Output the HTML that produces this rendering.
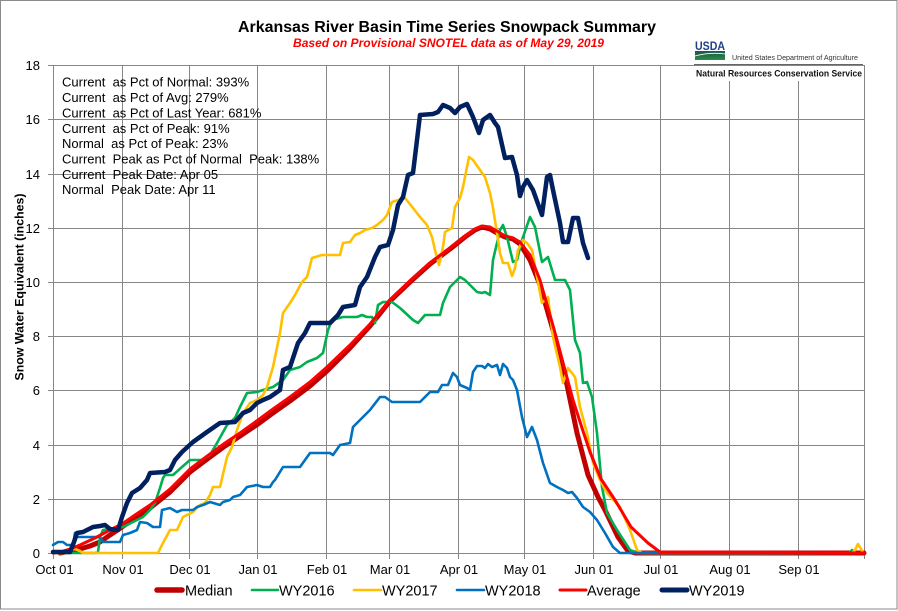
<!DOCTYPE html>
<html>
<head>
<meta charset="utf-8">
<style>
html,body{margin:0;padding:0;background:#fff;}
svg{display:block;}
text{font-family:"Liberation Sans",Arial,sans-serif;}
</style>
</head>
<body>
<svg width="898" height="611" viewBox="0 0 898 611" xmlns="http://www.w3.org/2000/svg">
<rect x="0" y="0" width="898" height="611" fill="#fff"/>
<rect x="0.5" y="0.5" width="896.5" height="608.5" fill="none" stroke="#8a8a8a" stroke-width="1"/>

<g stroke="#868686" stroke-width="1" shape-rendering="crispEdges">
<line x1="53" y1="65.5" x2="865" y2="65.5"/>
<line x1="53" y1="119.5" x2="865" y2="119.5"/>
<line x1="53" y1="174.5" x2="865" y2="174.5"/>
<line x1="53" y1="228.5" x2="865" y2="228.5"/>
<line x1="53" y1="282.5" x2="865" y2="282.5"/>
<line x1="53" y1="336.5" x2="865" y2="336.5"/>
<line x1="53" y1="390.5" x2="865" y2="390.5"/>
<line x1="53" y1="445.5" x2="865" y2="445.5"/>
<line x1="53" y1="499.5" x2="865" y2="499.5"/>
<line x1="48" y1="553.5" x2="865" y2="553.5"/>
<line x1="48" y1="65.5" x2="53" y2="65.5"/>
<line x1="48" y1="119.5" x2="53" y2="119.5"/>
<line x1="48" y1="174.5" x2="53" y2="174.5"/>
<line x1="48" y1="228.5" x2="53" y2="228.5"/>
<line x1="48" y1="282.5" x2="53" y2="282.5"/>
<line x1="48" y1="336.5" x2="53" y2="336.5"/>
<line x1="48" y1="390.5" x2="53" y2="390.5"/>
<line x1="48" y1="445.5" x2="53" y2="445.5"/>
<line x1="48" y1="499.5" x2="53" y2="499.5"/>
<line x1="53.5" y1="65" x2="53.5" y2="559"/>
<line x1="122.5" y1="65" x2="122.5" y2="559"/>
<line x1="189.5" y1="65" x2="189.5" y2="559"/>
<line x1="257.5" y1="65" x2="257.5" y2="559"/>
<line x1="326.5" y1="65" x2="326.5" y2="559"/>
<line x1="389.5" y1="65" x2="389.5" y2="559"/>
<line x1="458.5" y1="65" x2="458.5" y2="559"/>
<line x1="524.5" y1="65" x2="524.5" y2="559"/>
<line x1="593.5" y1="65" x2="593.5" y2="559"/>
<line x1="660.5" y1="65" x2="660.5" y2="559"/>
<line x1="729.5" y1="65" x2="729.5" y2="559"/>
<line x1="798.5" y1="65" x2="798.5" y2="559"/>
<line x1="864.5" y1="65" x2="864.5" y2="559"/>
</g>

<rect x="690" y="66" width="174" height="15" fill="#fff"/>

<g font-size="13" text-anchor="end" fill="#000">
<text x="40" y="70.2">18</text>
<text x="40" y="124.2">16</text>
<text x="40" y="179.2">14</text>
<text x="40" y="233.2">12</text>
<text x="40" y="287.2">10</text>
<text x="40" y="341.2">8</text>
<text x="40" y="395.2">6</text>
<text x="40" y="450.2">4</text>
<text x="40" y="504.2">2</text>
<text x="40" y="558.2">0</text>
</g>
<g font-size="13" text-anchor="middle" fill="#000">
<text x="54.5" y="574">Oct 01</text>
<text x="123" y="574">Nov 01</text>
<text x="190" y="574">Dec 01</text>
<text x="258" y="574">Jan 01</text>
<text x="327" y="574">Feb 01</text>
<text x="390" y="574">Mar 01</text>
<text x="459" y="574">Apr 01</text>
<text x="525" y="574">May 01</text>
<text x="594" y="574">Jun 01</text>
<text x="661" y="574">Jul 01</text>
<text x="730" y="574">Aug 01</text>
<text x="799" y="574">Sep 01</text>
</g>

<text transform="translate(23.5,287) rotate(-90)" font-size="12.3" font-weight="bold" text-anchor="middle" textLength="187" lengthAdjust="spacingAndGlyphs">Snow Water Equivalent (inches)</text>

<text x="447" y="32" font-size="16" font-weight="bold" text-anchor="middle" textLength="418" lengthAdjust="spacingAndGlyphs">Arkansas River Basin Time Series Snowpack Summary</text>
<text x="448.5" y="47" font-size="12" font-weight="bold" font-style="italic" fill="#ff0000" text-anchor="middle" textLength="311" lengthAdjust="spacingAndGlyphs">Based on Provisional SNOTEL data as of May 29, 2019</text>

<text x="695" y="50" font-size="12" font-weight="bold" fill="#1f3f86" textLength="30" lengthAdjust="spacingAndGlyphs">USDA</text>
<defs>
<linearGradient id="g1" x1="0" y1="0" x2="0" y2="1">
<stop offset="0" stop-color="#1d4f7a"/>
<stop offset="0.35" stop-color="#1e6a3c"/>
<stop offset="1" stop-color="#2f8a4a"/>
</linearGradient>
</defs>
<rect x="695" y="51" width="30" height="9" fill="url(#g1)"/>
<path d="M695,56 Q710,52 725,54" stroke="#fff" stroke-width="0.8" fill="none"/>
<text x="732" y="60" font-size="7.6" fill="#333" textLength="126" lengthAdjust="spacingAndGlyphs">United States Department of Agriculture</text>
<line x1="694" y1="64.5" x2="863" y2="64.5" stroke="#666" stroke-width="1"/>
<text x="696" y="76.5" font-size="9.5" font-weight="bold" fill="#111" textLength="166" lengthAdjust="spacingAndGlyphs">Natural Resources Conservation Service</text>

<g font-size="13" fill="#000">
<text x="62" y="86.7">Current&#160; as Pct of Normal: 393%</text>
<text x="62" y="102.05">Current&#160; as Pct of Avg: 279%</text>
<text x="62" y="117.4">Current&#160; as Pct of Last Year: 681%</text>
<text x="62" y="132.75">Current&#160; as Pct of Peak: 91%</text>
<text x="62" y="148.1">Normal&#160; as Pct of Peak: 23%</text>
<text x="62" y="163.45">Current&#160; Peak as Pct of Normal&#160; Peak: 138%</text>
<text x="62" y="178.8">Current&#160; Peak Date: Apr 05</text>
<text x="62" y="194.15">Normal&#160; Peak Date: Apr 11</text>
</g>

<g fill="none" stroke-linejoin="round" stroke-linecap="round">
<polyline stroke="#c00000" stroke-width="5" points="60,553 70,551 80,549 90,546 100,542 110,535 122,527 135,518 150,508 170,492 190,472 210,457 225,446 240,436 258,424 273,413 290,401 310,386 327,371 350,348 370,326 390,301 410,282 430,264 450,249 465,237 475,230 482,227 490,229 497,233 505,237 513,239 520,244 530,260 540,285 553,330 567,385 577,433 588,475 598,497 605,510 618,537 628,551 635,553 864,553"/>
<polyline stroke="#00b050" stroke-width="2.6" points="53,553 95,553 98,552 100,537 103,530 115,528 123,527 133,522 143,517 150,510 155,503 160,488 163,478 165,475 173,475 182,467 190,460 202,460 210,455 217,443 227,425 235,418 240,407 247,393 257,392 263,390 273,387 283,380 290,370 300,367 307,362 317,358 323,353 328,330 332,320 343,317 357,317 362,315 367,317 372,317 375,323 378,305 383,302 392,302 400,308 413,320 418,323 425,315 440,315 443,303 450,287 460,277 465,280 470,285 477,292 482,293 485,292 490,295 493,260 497,243 500,230 503,225 507,237 513,262 517,260 522,240 530,217 535,227 542,262 548,257 555,280 565,280 570,290 575,340 580,353 583,383 587,382 592,397 597,433 602,487 607,513 617,530 630,550 637,553 849,553 852,550 855,553 864,553"/>
<polyline stroke="#ffc000" stroke-width="2.6" points="53,553 67,553 70,550 75,549 80,551 83,553 158,553 163,543 170,530 177,530 183,517 193,512 200,505 205,503 210,495 213,487 220,487 227,457 232,447 237,430 243,413 250,403 257,400 263,395 267,387 273,367 280,333 283,313 290,303 295,295 302,282 307,277 312,258 322,255 340,255 343,243 350,242 355,235 360,233 365,230 372,228 377,225 383,220 387,215 392,202 405,198 413,208 420,217 427,225 432,237 435,250 439,265 443,247 445,232 452,228 455,207 460,198 463,187 467,167 469,157 473,160 480,170 485,177 490,193 493,208 497,233 500,253 503,263 508,263 512,276 515,268 518,250 523,240 527,243 532,250 537,277 542,303 548,297 553,337 560,367 563,383 568,368 575,377 580,407 587,433 593,463 600,480 607,493 620,507 630,530 637,550 642,553 852,553 855,550 858,544 861,549 863,553 864,553"/>
<polyline stroke="#0070c0" stroke-width="2.6" points="53,545 58,542 63,542 67,545 73,545 75,533 78,537 100,537 103,542 120,542 123,535 130,533 137,530 140,522 147,523 153,527 160,527 162,510 170,508 177,512 182,510 193,510 197,507 203,505 210,502 220,505 223,502 230,500 233,497 240,495 247,487 257,485 263,487 270,487 273,482 275,480 283,467 300,467 310,453 330,453 333,455 340,445 350,443 353,427 360,420 370,410 380,397 385,397 392,402 420,402 430,392 438,392 442,385 448,385 453,373 457,377 460,385 467,388 470,390 473,372 477,366 482,366 485,368 488,364 492,367 497,365 500,375 503,364 507,368 510,377 513,380 517,390 522,417 527,437 532,427 537,440 543,463 550,483 557,487 563,490 568,493 572,492 577,498 583,507 590,512 597,520 605,533 613,547 620,553 864,553"/>
<polyline stroke="#ff0000" stroke-width="3" points="53,553 60,552 70,549 80,545 95,538 110,530 122,524 135,515 150,505 170,489 190,469 210,454 225,443 240,433 258,420 273,409 290,397 310,382 327,367 350,345 370,324 390,300 410,281 430,263 450,248 465,236 475,229 482,226 490,227 497,231 505,236 513,238 520,242 530,255 540,280 550,315 557,340 565,370 573,400 582,428 590,452 601,479 615,500 631,527 648,543 660,552 864,553"/>
<polyline stroke="#002060" stroke-width="4.5" points="53,552 70,552 74,542 77,533 83,532 93,527 100,526 105,525 110,529 118,530 122,517 127,503 132,493 140,488 147,480 150,473 165,472 170,470 175,460 182,452 193,442 200,437 207,432 220,423 235,422 243,413 250,410 257,403 263,400 270,397 280,390 283,370 290,367 298,343 305,333 310,323 330,323 338,315 343,307 355,305 360,287 367,277 375,257 380,247 388,245 393,230 398,205 403,197 408,175 413,173 417,140 420,115 433,114 438,112 443,105 450,108 455,113 460,107 467,104 473,117 479,133 483,120 490,115 495,123 498,127 505,158 512,157 517,175 520,196 523,187 527,180 533,190 542,215 547,177 550,175 553,190 560,223 563,242 568,242 573,218 578,218 583,243 588,258"/>
</g>

<g stroke-linecap="round">
<line x1="157" y1="590" x2="182" y2="590" stroke="#c00000" stroke-width="5.5"/>
<line x1="252" y1="590" x2="278" y2="590" stroke="#00b050" stroke-width="2.6"/>
<line x1="354" y1="590" x2="381" y2="590" stroke="#ffc000" stroke-width="2.6"/>
<line x1="457" y1="590" x2="484" y2="590" stroke="#0070c0" stroke-width="2.6"/>
<line x1="560" y1="590" x2="586" y2="590" stroke="#ff0000" stroke-width="3"/>
<line x1="662" y1="590" x2="687" y2="590" stroke="#002060" stroke-width="5"/>
</g>
<g font-size="14.5" fill="#000">
<text x="185" y="595.3">Median</text>
<text x="279" y="595.3">WY2016</text>
<text x="382" y="595.3">WY2017</text>
<text x="485" y="595.3">WY2018</text>
<text x="587" y="595.3">Average</text>
<text x="689" y="595.3">WY2019</text>
</g>
</svg>
</body>
</html>
